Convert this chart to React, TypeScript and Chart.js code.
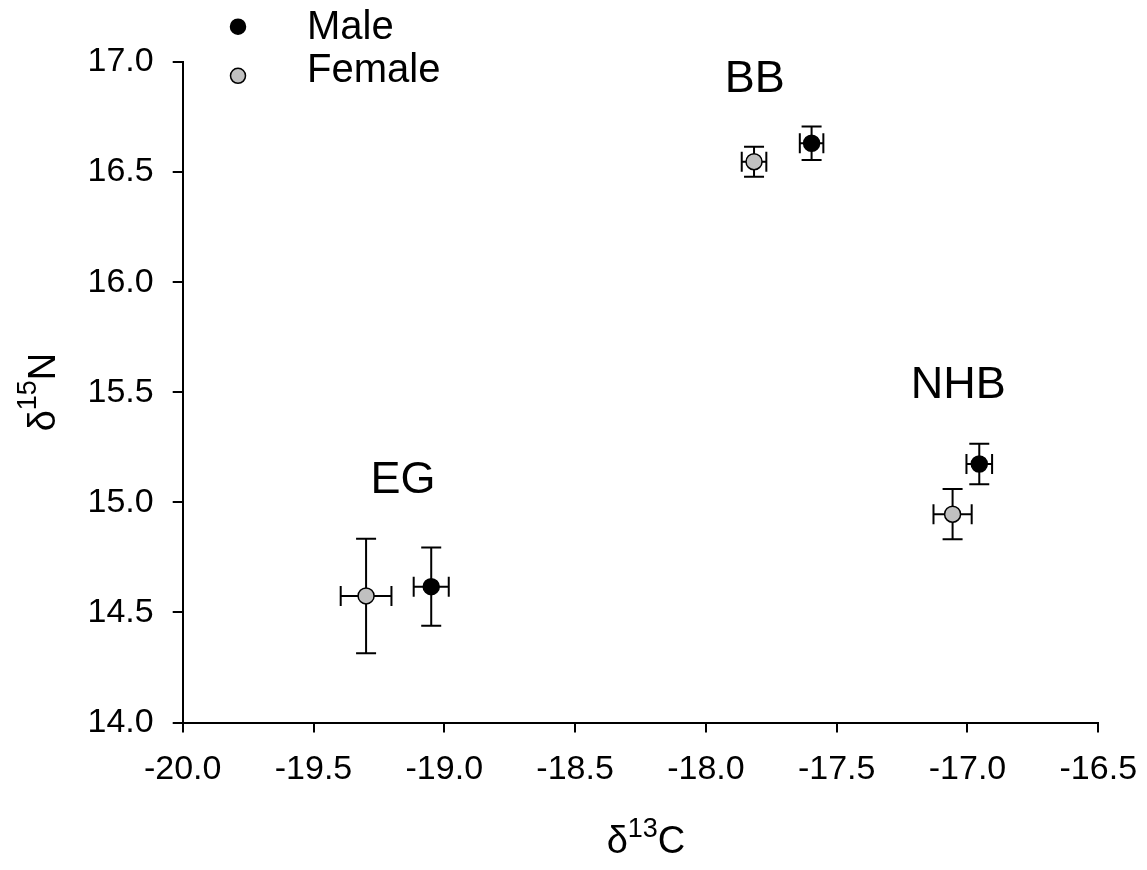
import React, { useEffect, useRef } from 'react';
import { Chart, registerables } from 'chart.js';

Chart.register(...registerables);

// ---- data ----
const groups = ['EG', 'BB', 'NHB'];
const maleX = [-19.05, -17.596, -16.955];
const maleY = [14.617, 16.631, 15.174];
const maleXErr = [0.067, 0.045, 0.049];
const maleYErr = [0.178, 0.076, 0.092];
const femaleX = [-19.299, -17.816, -17.057];
const femaleY = [14.575, 16.547, 14.946];
const femaleXErr = [0.097, 0.047, 0.073];
const femaleYErr = [0.26, 0.068, 0.114];
const groupLabelX = [-19.158, -17.813, -17.035];
const groupLabelY = [15.041, 16.865, 15.473];
const seriesNames = ['Male', 'Female'];
const xMin = -20, xMax = -16.5, yMin = 14, yMax = 17, tickStep = 0.5;

const FONT = "'Liberation Sans', Arial, sans-serif";
const MALE_COLOR = '#000000';
const FEMALE_COLOR = '#c0c0c0';

const errorBarPlugin = {
  id: 'errorBars',
  beforeDatasetsDraw(chart: any) {
    const ctx = chart.ctx;
    const xs = chart.scales.x;
    const ys = chart.scales.y;
    const cap = 10;
    ctx.save();
    ctx.strokeStyle = '#000';
    ctx.lineWidth = 2;
    chart.data.datasets.forEach((ds: any) => {
      ds.data.forEach((p: any, j: number) => {
        const cx = xs.getPixelForValue(p.x);
        const cy = ys.getPixelForValue(p.y);
        const x0 = xs.getPixelForValue(p.x - ds.xErr[j]);
        const x1 = xs.getPixelForValue(p.x + ds.xErr[j]);
        const y0 = ys.getPixelForValue(p.y - ds.yErr[j]);
        const y1 = ys.getPixelForValue(p.y + ds.yErr[j]);
        ctx.beginPath();
        ctx.moveTo(x0, cy); ctx.lineTo(x1, cy);
        ctx.moveTo(x0, cy - cap); ctx.lineTo(x0, cy + cap);
        ctx.moveTo(x1, cy - cap); ctx.lineTo(x1, cy + cap);
        ctx.moveTo(cx, y0); ctx.lineTo(cx, y1);
        ctx.moveTo(cx - cap, y0); ctx.lineTo(cx + cap, y0);
        ctx.moveTo(cx - cap, y1); ctx.lineTo(cx + cap, y1);
        ctx.stroke();
      });
    });
    ctx.restore();
  },
};

function drawSupText(ctx: any, parts: { t: string; sup?: boolean }[], mainSize: number, supSize: number, supRise: number, cx: number, baseY: number) {
  const widths = parts.map((p) => {
    ctx.font = `${p.sup ? supSize : mainSize}px ${FONT}`;
    return ctx.measureText(p.t).width;
  });
  const total = widths.reduce((a, b) => a + b, 0);
  let x = cx - total / 2;
  ctx.textAlign = 'left';
  ctx.textBaseline = 'alphabetic';
  parts.forEach((p, i) => {
    ctx.font = `${p.sup ? supSize : mainSize}px ${FONT}`;
    ctx.fillText(p.t, x, p.sup ? baseY - supRise : baseY);
    x += widths[i];
  });
}

const annotationPlugin = {
  id: 'annotations',
  afterDraw(chart: any) {
    const ctx = chart.ctx;
    const xs = chart.scales.x;
    const ys = chart.scales.y;
    ctx.save();
    ctx.fillStyle = '#000';
    // group labels
    ctx.font = `45px ${FONT}`;
    ctx.textAlign = 'center';
    ctx.textBaseline = 'alphabetic';
    groups.forEach((g, i) => {
      ctx.fillText(g, xs.getPixelForValue(groupLabelX[i]), ys.getPixelForValue(groupLabelY[i]));
    });
    // legend
    const legendItems = [
      { name: seriesNames[0], color: MALE_COLOR, my: 26.7, ty: 38.5 },
      { name: seriesNames[1], color: FEMALE_COLOR, my: 75.8, ty: 82 },
    ];
    legendItems.forEach((it) => {
      ctx.beginPath();
      ctx.arc(238, it.my, 7.5, 0, Math.PI * 2);
      ctx.fillStyle = it.color;
      ctx.fill();
      ctx.lineWidth = 1.5;
      ctx.strokeStyle = '#000';
      ctx.stroke();
      ctx.fillStyle = '#000';
      ctx.font = `40px ${FONT}`;
      ctx.textAlign = 'left';
      ctx.fillText(it.name, 307, it.ty);
    });
    // x axis title
    ctx.fillStyle = '#000';
    drawSupText(ctx, [{ t: 'δ' }, { t: '13', sup: true }, { t: 'C' }], 38, 27, 16, 646, 853);
    // y axis title (rotated)
    ctx.save();
    ctx.translate(55, 392);
    ctx.rotate(-Math.PI / 2);
    drawSupText(ctx, [{ t: 'δ' }, { t: '15', sup: true }, { t: 'N' }], 38, 27, 19, 0, 0);
    ctx.restore();
    ctx.restore();
  },
};

export default function App() {
  const ref = useRef<HTMLCanvasElement | null>(null);
  useEffect(() => {
    if (!ref.current) return;
    const chart = new Chart(ref.current, {
      type: 'scatter',
      data: {
        datasets: [
          {
            label: seriesNames[0],
            data: maleX.map((x, i) => ({ x, y: maleY[i] })),
            xErr: maleXErr,
            yErr: maleYErr,
            backgroundColor: MALE_COLOR,
            borderColor: '#000',
            borderWidth: 1.5,
            pointRadius: 8,
            pointHoverRadius: 8,
          } as any,
          {
            label: seriesNames[1],
            data: femaleX.map((x, i) => ({ x, y: femaleY[i] })),
            xErr: femaleXErr,
            yErr: femaleYErr,
            backgroundColor: FEMALE_COLOR,
            borderColor: '#000',
            borderWidth: 1.5,
            pointRadius: 8,
            pointHoverRadius: 8,
          } as any,
        ],
      },
      options: {
        responsive: false,
        animation: false,
        devicePixelRatio: 1,
        layout: { padding: { left: 0, right: 48.7, top: 62, bottom: 0 } },
        plugins: { legend: { display: false }, tooltip: { enabled: false } },
        scales: {
          x: {
            type: 'linear',
            min: xMin,
            max: xMax,
            afterFit: (s: any) => { s.height = 147.5; s.paddingLeft = 0; s.paddingRight = 0; },
            ticks: {
              stepSize: tickStep,
              color: '#000',
              padding: 17,
              font: { family: FONT, size: 34 },
              maxRotation: 0,
              callback: (v: any) => Number(v).toFixed(1),
            },
            grid: { drawOnChartArea: false, drawTicks: true, tickLength: 10, color: '#000', lineWidth: 2 },
            border: { display: true, color: '#000', width: 2 },
          },
          y: {
            type: 'linear',
            min: yMin,
            max: yMax,
            afterFit: (s: any) => { s.width = 182.7; s.paddingTop = 0; s.paddingBottom = 0; },
            ticks: {
              stepSize: tickStep,
              color: '#000',
              padding: 19,
              font: { family: FONT, size: 34 },
              callback: (v: any) => Number(v).toFixed(1),
            },
            grid: { drawOnChartArea: false, drawTicks: true, tickLength: 10, color: '#000', lineWidth: 2 },
            border: { display: true, color: '#000', width: 2 },
          },
        },
      },
      plugins: [errorBarPlugin, annotationPlugin],
    });
    return () => chart.destroy();
  }, []);
  return (
    <div style={{ position: 'fixed', left: 0, top: 0, width: 1147, height: 870, background: '#fff' }}>
      <canvas ref={ref} width={1147} height={870} style={{ display: 'block' }} />
    </div>
  );
}
